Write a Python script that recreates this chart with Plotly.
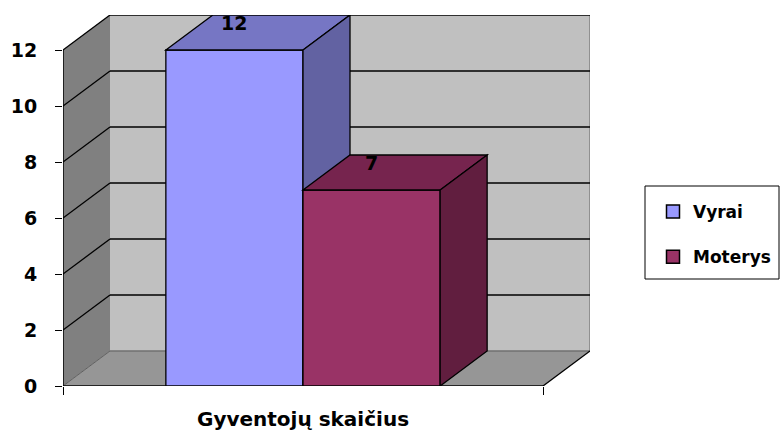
import plotly.graph_objects as go

# ---- data ----
category = "Gyventojų skaičius"
series_names = ["Vyrai", "Moterys"]
values = [12, 7]
y_ticks = [0, 2, 4, 6, 8, 10, 12]

# ---- styling ----
front_colors = ["#9999FF", "#993366"]
top_colors = ["#7676C4", "#76244E"]
side_colors = ["#6262A2", "#611E3F"]
FONT = "DejaVu Sans"

W, H = 781, 434
L, R, T, B = 63, 191, 15, 48
PW = W - L - R     # plot width in px
PH = H - T - B     # plot height in px

def px_x(xp):  # page pixel -> paper x
    return (xp - L) / PW

def px_y(yp):  # page pixel -> paper y
    return (H - B - yp) / PH

YMAX = 12
DX = 47 / 480      # depth offset in category units
DY = 1.25          # depth offset in value units
n = len(values)
w = 1 / (n + 1.5)  # bar width (gap width 150%)

shapes = []
def path(pts):
    return "M " + " L ".join(f"{x},{y}" for x, y in pts) + " Z"

def line(x0, y0, x1, y1, color="black", width=1.3):
    shapes.append(dict(type="line", xref="x", yref="y", x0=x0, y0=y0, x1=x1, y1=y1,
                       line=dict(color=color, width=width)))

# back wall
shapes.append(dict(type="path", xref="x", yref="y",
                   path=path([(DX, DY), (DX, YMAX + DY), (1 + DX, YMAX + DY), (1 + DX, DY)]),
                   fillcolor="#C0C0C0", line=dict(width=0)))
# side wall
shapes.append(dict(type="path", xref="x", yref="y",
                   path=path([(0, 0), (0, YMAX), (DX, YMAX + DY), (DX, DY)]),
                   fillcolor="#808080", line=dict(width=0)))
# floor
shapes.append(dict(type="path", xref="x", yref="y",
                   path=path([(0, 0), (DX, DY), (1 + DX, DY), (1, 0)]),
                   fillcolor="#969696", line=dict(width=0)))
# wall edges
line(1 + DX, DY, 1 + DX, YMAX + DY, color="#808080", width=1.5)
line(DX, DY, 1 + DX, DY, color="#707070", width=1.5)
line(0, 0, DX, DY, color="#606060", width=1)
# gridlines
for v in y_ticks[1:]:
    line(DX, v + DY, 1 + DX, v + DY)
    line(0, v, DX, v + DY)
line(1, 0, 1 + DX, DY)
line(0, 0, 1, 0, width=1.5)
line(0, 0, 0, YMAX, width=1.5)

# bars
annotations = []
for i, v in enumerate(values):
    x0 = 0.75 * w + i * w
    x1 = x0 + w
    shapes.append(dict(type="path", xref="x", yref="y",
                       path=path([(x0, 0), (x0, v), (x1, v), (x1, 0)]),
                       fillcolor=front_colors[i], line=dict(color="black", width=1.3)))
    shapes.append(dict(type="path", xref="x", yref="y",
                       path=path([(x0, v), (x0 + DX, v + DY), (x1 + DX, v + DY), (x1, v)]),
                       fillcolor=top_colors[i], line=dict(color="black", width=1.3)))
    shapes.append(dict(type="path", xref="x", yref="y",
                       path=path([(x1, 0), (x1, v), (x1 + DX, v + DY), (x1 + DX, DY)]),
                       fillcolor=side_colors[i], line=dict(color="black", width=1.3)))
    annotations.append(dict(x=(x0 + x1) / 2, y=v + 0.96, xref="x", yref="y", text=str(v),
                            showarrow=False, xanchor="center", yanchor="middle",
                            font=dict(family=FONT, size=19, color="black", weight="bold")))

annotations.append(dict(x=0.5, y=px_y(419), xref="x", yref="paper", text=category,
                        showarrow=False, xanchor="center", yanchor="middle",
                        font=dict(family=FONT, size=20, color="black", weight="bold")))

# legend frame
shapes.append(dict(type="rect", xref="paper", yref="paper",
                   x0=px_x(645), x1=px_x(779), y0=px_y(279), y1=px_y(186),
                   line=dict(color="black", width=1), fillcolor="white", layer="below"))

fig = go.Figure()
for i, name in enumerate(series_names):
    fig.add_trace(go.Scatter(x=[None], y=[None], mode="markers", name=name,
                             legendgroup=name,
                             marker=dict(symbol="square", size=13, color=front_colors[i],
                                         line=dict(color="black", width=1.5))))

fig.update_layout(
    width=W, height=H,
    margin=dict(l=L, r=R, t=T, b=B, autoexpand=False),
    paper_bgcolor="white", plot_bgcolor="white",
    shapes=shapes, annotations=annotations,
    xaxis=dict(range=[0, 1 + DX], tickvals=[0, 1], showticklabels=False, ticks="outside",
               ticklen=8, tickcolor="black", tickwidth=1.3, showgrid=False, zeroline=False,
               showline=False, fixedrange=True, automargin=False),
    yaxis=dict(range=[0, YMAX + DY], tickvals=y_ticks, ticks="outside", ticklen=7,
               tickcolor="black", tickwidth=1.3, showgrid=False, zeroline=False, showline=False,
               ticklabelstandoff=14, automargin=False,
               tickfont=dict(family=FONT, size=19, color="black", weight="bold"),
               fixedrange=True),
    legend=dict(x=px_x(653), y=px_y(194), xanchor="left", yanchor="top",
                borderwidth=0, bgcolor="rgba(0,0,0,0)", tracegroupgap=20,
                font=dict(family=FONT, size=17, color="black", weight="bold")),
    showlegend=True,
)

fig.write_html(
    "out.html",
    config={"displayModeBar": False},
    post_script="document.body.style.margin='0';"
                "document.documentElement.style.overflow='hidden';"
                "document.body.style.overflow='hidden';",
)
